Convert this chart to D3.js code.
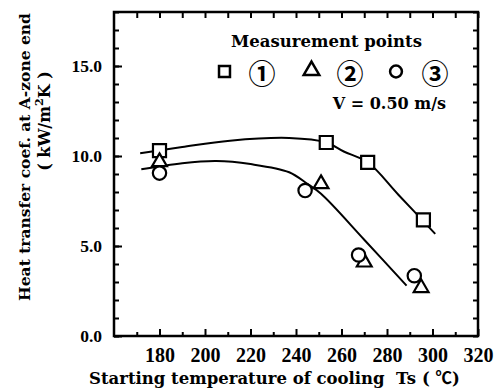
<!DOCTYPE html>
<html>
<head>
<meta charset="utf-8">
<script src="https://cdn.jsdelivr.net/npm/d3@7"></script>
<style>
  html, body { margin: 0; padding: 0; background: #fff; }
  svg { display: block; }
  text { fill: #000; }
  .serif { font-family: "DejaVu Serif", "Liberation Serif", "Noto Serif", serif; font-weight: bold; }
  .num { font-family: "Liberation Serif", "Times New Roman", "DejaVu Serif", serif; font-weight: bold; }
  .cjk { font-family: "Noto Sans CJK JP", sans-serif; }
</style>
</head>
<body>
<svg id="chart" width="497" height="389"></svg>
<script>
// Measured heat transfer coefficient at the A-zone end vs. starting temperature of cooling
const pointsX1 = [180, 253.3, 271.5, 296];      // measurement point 1 (squares)
const pointsY1 = [10.3, 10.75, 9.65, 6.45];
const pointsX2 = [180, 251, 270, 295];          // measurement point 2 (triangles)
const pointsY2 = [9.67, 8.45, 4.1, 2.68];
const pointsX3 = [180, 244, 267.5, 292];        // measurement point 3 (circles)
const pointsY3 = [9.05, 8.08, 4.5, 3.35];

// Hand-drawn trend lines
const upperFitX = [171.5, 190, 211, 237, 253.3, 261, 271.5, 285, 301.2];
const upperFitY = [10.15, 10.5, 10.85, 11.0, 10.75, 10.25, 9.65, 7.85, 5.67];
const lowerFitX = [172, 190, 205, 220, 237, 245, 251, 270, 288.6];
const lowerFitY = [9.26, 9.6, 9.72, 9.55, 9.1, 8.45, 7.9, 5.35, 2.8];

const xMajorTicks = [180, 200, 220, 240, 260, 280, 300, 320];
const xMinorTicks = [170, 190, 210, 230, 250, 270, 290, 310];
const yMajorTicks = [0, 5, 10, 15];
const yMinorTicks = d3.range(0, 19, 1);

const legendTitle = "Measurement points";
const legendLabels = ["①", "②", "③"];
const conditionLabel = "V = 0.50 m/s";
const xTitle = "Starting temperature of cooling  Ts ( ";
const xUnit = "℃";
const yTitle1 = "Heat transfer coef. at A-zone end";

const svg = d3.select("#chart");
const x = d3.scaleLinear().domain([160, 320]).range([114, 478]);
const y = d3.scaleLinear().domain([0, 18]).range([336, 12]);

// Axes: ticks point inward on all four sides
function styleAxis(g) {
  g.select(".domain").remove();
  g.selectAll(".tick line").attr("stroke", "#000").attr("stroke-width", 2);
}
function styleLabels(size) {
  return g => g.selectAll("text")
    .attr("font-family", null).attr("class", "num")
    .style("font-size", size + "px").attr("fill", "#000");
}

svg.append("g").attr("transform", `translate(0,${y(0)})`)
  .call(d3.axisBottom(x).tickValues(xMajorTicks).tickSize(-7).tickPadding(12).tickFormat(d3.format("d")))
  .call(styleAxis)
  .call(styleLabels(20));
svg.append("g").attr("transform", `translate(0,${y(0)})`)
  .call(d3.axisBottom(x).tickValues(xMinorTicks).tickSize(-4).tickFormat(""))
  .call(styleAxis);
svg.append("g").attr("transform", `translate(0,${y(18)})`)
  .call(d3.axisTop(x).tickValues(xMajorTicks.concat(xMinorTicks)).tickSize(-6).tickFormat(""))
  .call(styleAxis);

svg.append("g").attr("transform", `translate(${x(160)},0)`)
  .call(d3.axisLeft(y).tickValues(yMinorTicks).tickSize(-5).tickFormat(""))
  .call(styleAxis);
svg.append("g").attr("transform", `translate(${x(160)},0)`)
  .call(d3.axisLeft(y).tickValues(yMajorTicks).tickSize(-8).tickPadding(12).tickFormat(d3.format(".1f")))
  .call(styleAxis)
  .call(styleLabels(17.5));
svg.append("g").attr("transform", `translate(${x(320)},0)`)
  .call(d3.axisRight(y).tickValues(yMinorTicks).tickSize(-5).tickFormat(""))
  .call(styleAxis);

// Frame
svg.append("rect")
  .attr("x", x(160)).attr("y", y(18))
  .attr("width", x(320) - x(160)).attr("height", y(0) - y(18))
  .attr("fill", "none").attr("stroke", "#000").attr("stroke-width", 2.5);

// Trend lines
const line = d3.line().x(d => x(d[0])).y(d => y(d[1])).curve(d3.curveCatmullRom.alpha(0.5));
svg.append("path").datum(d3.zip(upperFitX, upperFitY))
  .attr("d", line).attr("fill", "none").attr("stroke", "#000").attr("stroke-width", 2);
svg.append("path").datum(d3.zip(lowerFitX, lowerFitY))
  .attr("d", line).attr("fill", "none").attr("stroke", "#000").attr("stroke-width", 2);

// Markers
const markerSets = [
  { xs: pointsX1, ys: pointsY1, type: d3.symbolSquare, size: 170 },
  { xs: pointsX2, ys: pointsY2, type: d3.symbolTriangle, size: 95 },
  { xs: pointsX3, ys: pointsY3, type: d3.symbolCircle, size: 140 }
];
markerSets.forEach(s => {
  svg.append("g").selectAll("path")
    .data(d3.zip(s.xs, s.ys))
    .join("path")
    .attr("transform", d => `translate(${x(d[0])},${y(d[1])})`)
    .attr("d", d3.symbol().type(s.type).size(s.size))
    .attr("fill", "#fff").attr("stroke", "#000").attr("stroke-width", 2.2);
});

// Legend
svg.append("text").attr("class", "serif").attr("x", 231).attr("y", 47)
  .style("font-size", "16.5px")
  .text(legendTitle);

const legendItems = [
  { type: d3.symbolSquare, size: 120, sx: 224.5, lx: 262 },
  { type: d3.symbolTriangle, size: 105, sx: 311.5, lx: 350 },
  { type: d3.symbolCircle, size: 110, sx: 396, lx: 435 }
];
legendItems.forEach((it, i) => {
  svg.append("path")
    .attr("transform", `translate(${it.sx},${i === 1 ? 70.5 : 71.5})`)
    .attr("d", d3.symbol().type(it.type).size(it.size))
    .attr("fill", "#fff").attr("stroke", "#000").attr("stroke-width", 2.5);
  svg.append("text").attr("class", "cjk").attr("x", it.lx).attr("y", 72)
    .attr("text-anchor", "middle").attr("dominant-baseline", "central")
    .style("font-size", "27px").style("font-weight", "bold")
    .text(legendLabels[i]);
});

svg.append("text").attr("class", "serif").attr("x", 446).attr("y", 109).attr("text-anchor", "end")
  .style("font-size", "16px")
  .text(conditionLabel);

// Axis titles
const xt = svg.append("text").attr("class", "serif").attr("x", 89).attr("y", 384)
  .style("font-size", "16.5px")
  .style("white-space", "pre");
xt.append("tspan").text(xTitle);
xt.append("tspan").attr("class", "cjk").style("font-weight", "bold").text(xUnit);
xt.append("tspan").text(")");

svg.append("text").attr("class", "serif")
  .attr("transform", "translate(30,157) rotate(-90)")
  .attr("text-anchor", "middle")
  .style("font-size", "15.5px")
  .text(yTitle1);

const yt2 = svg.append("text").attr("class", "serif")
  .attr("transform", "translate(50,121) rotate(-90)")
  .attr("text-anchor", "middle")
  .style("font-size", "16px")
  .style("white-space", "pre");
yt2.append("tspan").text("( kW/m");
yt2.append("tspan").style("font-size", "11px").attr("dy", -7).text("2");
yt2.append("tspan").attr("dy", 7).text("K )");
</script>
</body>
</html>
